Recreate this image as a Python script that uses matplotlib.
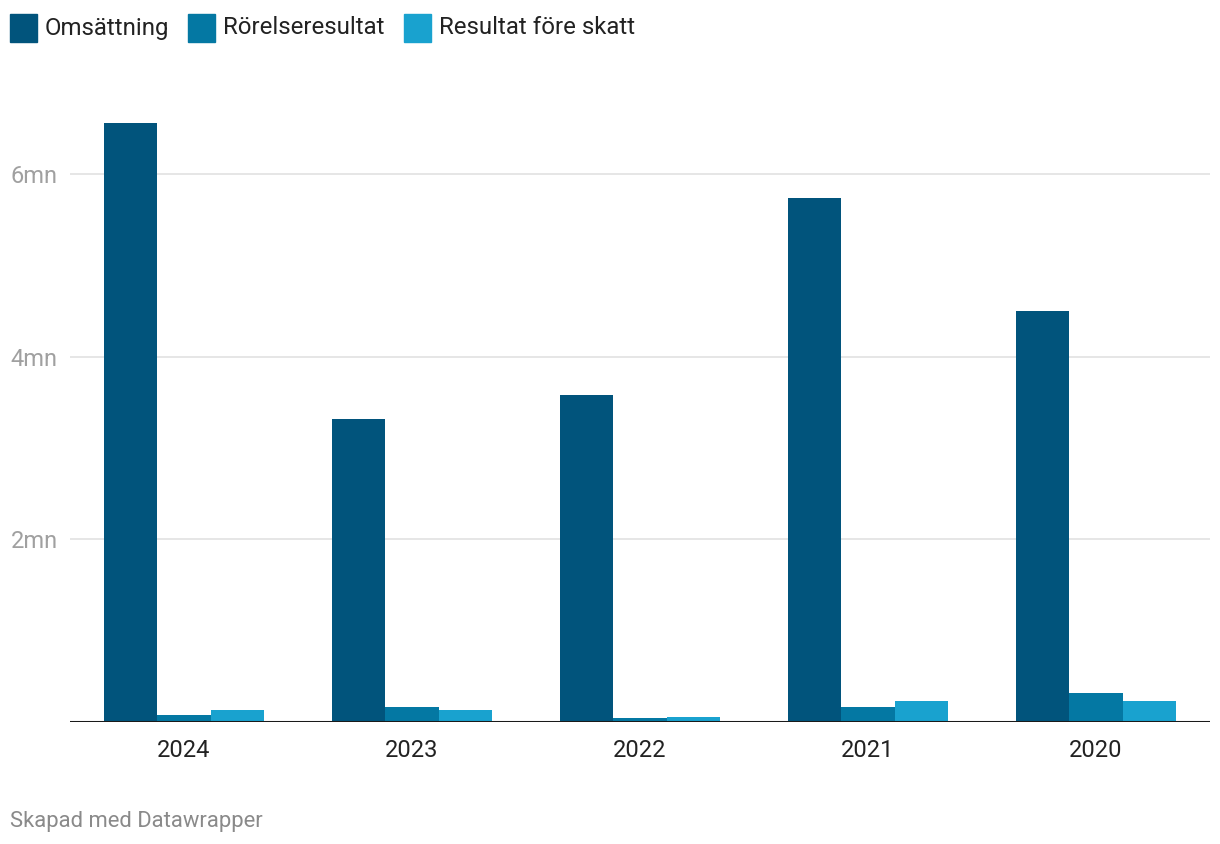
import numpy as np
import matplotlib.pyplot as plt

plt.rcParams['font.family'] = ['Roboto', 'DejaVu Sans']

# Data (values in millions)
years = ['2024', '2023', '2022', '2021', '2020']
series_names = ['Omsättning', 'Rörelseresultat', 'Resultat före skatt']
omsattning = [6.56, 3.32, 3.58, 5.74, 4.50]
rorelseresultat = [0.08, 0.16, 0.04, 0.16, 0.32]
resultat_fore_skatt = [0.135, 0.135, 0.05, 0.225, 0.235]
yticks = [2, 4, 6]
ytick_labels = ['2mn', '4mn', '6mn']

colors = ['#01547c', '#0478a3', '#19a2cf']

W, H = 1220, 844
fig = plt.figure(figsize=(W / 100, H / 100), dpi=100)
ax = fig.add_axes([70 / W, 1 - 722 / H, 1140 / W, (722 - 100) / H])

x = np.arange(len(years))
bar_w = 0.234
for i, vals in enumerate([omsattning, rorelseresultat, resultat_fore_skatt]):
    ax.bar(x + (i - 1) * bar_w, vals, width=bar_w, color=colors[i], zorder=2)

ax.set_xlim(-0.5, len(years) - 0.5)
ax.set_ylim(0, (722 - 100) / 91.3)

# grid lines
for t in yticks:
    ax.axhline(t, color='#e2e2e2', lw=1.2, zorder=1)
ax.axhline(0, color='#1a1a1a', lw=2.2, zorder=3)

for s in ax.spines.values():
    s.set_visible(False)

ax.set_yticks(yticks)
ax.set_yticklabels(ytick_labels)
ax.tick_params(axis='y', length=0, pad=9, labelsize=17, labelcolor='#a0a0a0')
ax.set_xticks(x)
ax.set_xticklabels(years)
ax.tick_params(axis='x', length=0, pad=12, labelsize=17, labelcolor='#222222')

# legend at the top, drawn by hand
fig.canvas.draw()
renderer = fig.canvas.get_renderer()
lx = 10
for name, c in zip(series_names, colors):
    fig.patches.append(plt.Rectangle((lx / W, 1 - 42 / H), 27 / W, 28 / H,
                                     transform=fig.transFigure, color=c, figure=fig))
    t = fig.text((lx + 35) / W, 1 - 28 / H, name, fontsize=17.3, color='#222222',
                 va='center', ha='left')
    bb = t.get_window_extent(renderer)
    lx = bb.x1 + 19

fig.text(10 / W, 1 - 821 / H, 'Skapad med Datawrapper', fontsize=15.8,
         color='#8a8a8a', va='center', ha='left')

fig.savefig('out.png', dpi=100, facecolor='white')
